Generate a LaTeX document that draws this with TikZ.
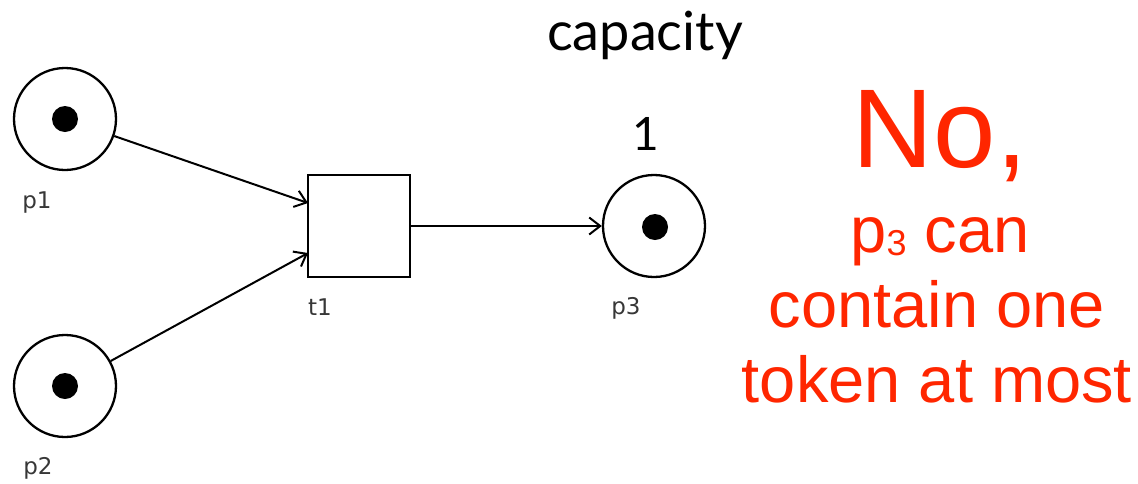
\documentclass[tikz,border=0pt]{standalone}
\usepackage{fontspec}
\setmainfont{Liberation Sans}
\newfontfamily\lblfont{DejaVu Sans}
\newfontfamily\humfont{Lato}
\usetikzlibrary{arrows.meta}
\definecolor{answerred}{RGB}{255,38,0}
\definecolor{lblgray}{RGB}{55,55,55}
\tikzset{
  place/.style={circle, draw=black, line width=2.3pt, minimum size=102pt, inner sep=0pt},
  token/.style={circle, fill=black, minimum size=26pt, inner sep=0pt},
  trans/.style={rectangle, draw=black, line width=2.3pt, minimum width=102pt, minimum height=102pt, inner sep=0pt},
  arc/.style={line width=2pt, -{Straight Barb[length=11pt,width=17pt,line width=2pt]}},
  lbl/.style={font=\lblfont\fontsize{23pt}{25pt}\selectfont, text=lblgray, inner sep=0pt},
  redtxt/.style={text=answerred, inner sep=0pt, anchor=base}
}
\begin{document}
\begin{tikzpicture}[x=1pt,y=-1pt]
\useasboundingbox (0,0) rectangle (1138,483);
% places
\node[place] (p1) at (65,119) {};
\node[token] (k1) at (65,119) {};
\node[place] (p2) at (65,386) {};
\node[token] (k2) at (65,386) {};
\node[place] (p3) at (654,226) {};
\node[token] (k3) at (655,227) {};
% transition
\node[trans] (t1) at (359,226) {};
\coordinate (t1a) at (308,203);
\coordinate (t1b) at (308,253);
% labels
\node[lbl] (lp1) at (37,203) {p1};
\node[lbl] (lp2) at (38,468) {p2};
\node[lbl] (lt1) at (320,307) {t1};
\node[lbl] (lp3) at (626,308) {p3};
% arcs
\draw[arc] (p1) -- (t1a);
\draw[arc] (p2) -- (t1b);
\draw[arc] (t1.east) -- (p3.west);
% capacity
\node[inner sep=0pt, anchor=base, font=\humfont\fontsize{54pt}{58pt}\selectfont] (cap) at (645,50) {capacity};
\node[inner sep=0pt, anchor=base, font=\humfont\fontsize{46pt}{50pt}\selectfont] (one) at (646,150) {1};
% answer
\node[redtxt, font=\fontsize{112pt}{120pt}\selectfont] (no) at (940,167) {No,};
\node[redtxt, font=\fontsize{65pt}{72pt}\selectfont] (l1) at (940,252) {p\raisebox{-3pt}{\fontsize{36pt}{40pt}\selectfont 3} can};
\node[redtxt, font=\fontsize{65pt}{72pt}\selectfont] (l2) at (937,327) {contain one};
\node[redtxt, font=\fontsize{65pt}{72pt}\selectfont] (l3) at (937,402) {token at most};
\end{tikzpicture}
\end{document}
